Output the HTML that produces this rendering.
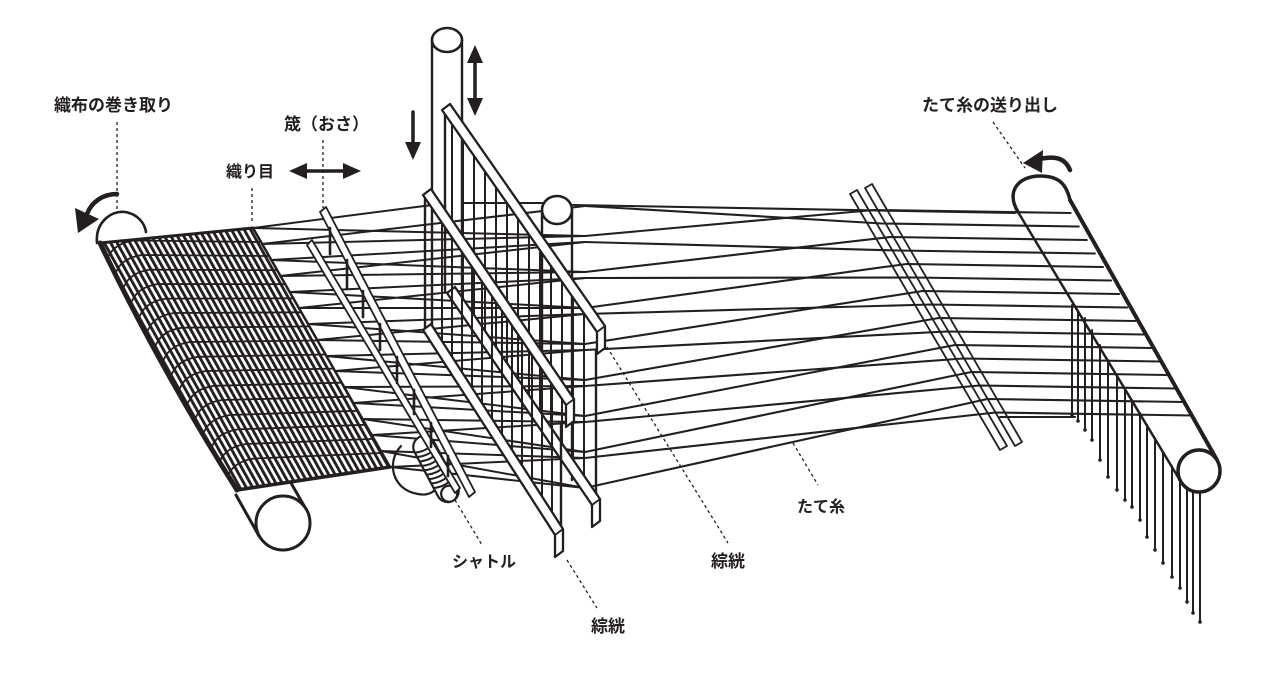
<!DOCTYPE html>
<html><head><meta charset="utf-8"><style>
html,body{margin:0;padding:0;background:#fff;}
svg{display:block;}
text{font-family:"Liberation Sans","Noto Sans CJK JP",sans-serif;font-weight:bold;fill:#231f20;}
</style></head><body>
<svg width="1280" height="674" viewBox="0 0 1280 674" xmlns="http://www.w3.org/2000/svg">
<defs>
<pattern id="h" width="5.6" height="20" patternUnits="userSpaceOnUse" patternTransform="rotate(-29)"><rect width="2.9" height="20" fill="#231f20"/></pattern>
</defs>
<rect width="1280" height="674" fill="#fff"/>
<g stroke="#231f20" fill="none" stroke-linecap="round" stroke-linejoin="round">

<!-- right warp beam -->
<path d="M1018,212 L1181,482 L1217,460 L1070,200 C1066,183 1058,176 1040,176 C1020,176 1005,190 1018,212 Z" fill="#fff" stroke="none"/>
<path d="M1018,212 L1181,482" stroke-width="2.5"/>
<path d="M1070,200 L1217,460" stroke-width="4"/>
<path d="M1018,212 C1005,190 1020,176 1040,176 C1058,176 1066,183 1070,200" stroke-width="3.5"/>

<!-- tall post -->
<rect x="432" y="40" width="30" height="160" fill="#fff" stroke="none"/>
<path d="M432,40 L432,330 M462,40 L462,290" stroke-width="2.4"/>
<ellipse cx="447" cy="40" rx="15" ry="12" fill="#fff" stroke-width="2.6"/>

<!-- right warp family -->
<g stroke-width="2.1">
<polyline points="573,205 1015,213"/>
<polyline points="585,206 882,223.5 1078.7,226.5"/>
<polyline points="585,236 874,210 1070.6,213"/>
<polyline points="585,242 898.3,250.5 1094.9,253.5"/>
<polyline points="585,272 890.2,237 1086.8,240"/>
<polyline points="585,278 914.5,277.5 1111.1,280.5"/>
<polyline points="585,308 906.4,264 1103,267"/>
<polyline points="585,314 930.7,304.5 1127.3,307.5"/>
<polyline points="585,344 922.6,291 1119.2,294"/>
<polyline points="585,350 946.9,331.5 1143.5,334.5"/>
<polyline points="585,380 938.8,318 1135.4,321"/>
<polyline points="585,386 963.1,358.5 1159.7,361.5"/>
<polyline points="585,416 955,345 1151.6,348"/>
<polyline points="585,422 979.3,385.5 1175.9,388.5"/>
<polyline points="585,452 971.2,372 1167.8,375"/>
<polyline points="585,458 995.5,412.5 1192.1,415.5"/>
<polyline points="585,488 987.4,399 1184,402"/>
<polyline points="1000,417 1075,417"/>
</g>

<!-- lease sticks -->
<polygon points="850,194 857,190 1007,446 1000,450" stroke-width="1.8"/>
<polygon points="865,188 872,184 1022,442 1015,446" stroke-width="1.8"/>

<!-- hanging threads -->
<g stroke-width="2">
<path d="M1072,305 V415 M1078,311 V421 M1085,318 V430 M1092,330 V440 M1100,345 V460 M1108,360 V477 M1117,375 V490 M1125,388 V500 M1132,400 V507 M1140,413 V520 M1147,425 V537 M1155,438 V550 M1163,452 V563 M1172,466 V577 M1180,480 V588 M1187,490 V602 M1193,492 V613 M1200,492 V622"/>
</g>
<g fill="#231f20" stroke="none">
<circle cx="1072" cy="415" r="1.8"/><circle cx="1078" cy="421" r="1.8"/><circle cx="1085" cy="430" r="1.8"/><circle cx="1092" cy="440" r="1.8"/><circle cx="1100" cy="460" r="1.8"/><circle cx="1108" cy="477" r="1.8"/><circle cx="1117" cy="490" r="1.8"/><circle cx="1125" cy="500" r="1.8"/><circle cx="1132" cy="507" r="1.8"/><circle cx="1140" cy="520" r="1.8"/><circle cx="1147" cy="537" r="1.8"/><circle cx="1155" cy="550" r="1.8"/><circle cx="1163" cy="563" r="1.8"/><circle cx="1172" cy="577" r="1.8"/><circle cx="1180" cy="588" r="1.8"/><circle cx="1187" cy="602" r="1.8"/><circle cx="1193" cy="613" r="1.8"/><circle cx="1200" cy="622" r="1.8"/>
</g>
<circle cx="1199" cy="471" r="21" fill="#fff" stroke-width="3.5"/>

<!-- left warp family -->
<g stroke-width="2">
<path d="M253,228 L432,205 M462,203 L542,203"/>
<path d="M253,228 L585,236 M262,244 L585,206 M271,260 L585,272 M280,276 L585,242 M290,292 L585,308 M299,308 L585,278 M308,324 L585,344 M317,340 L585,314 M326,356 L585,380 M335,371 L585,350 M344,387 L585,416 M354,403 L585,386 M363,419 L585,452 M372,435 L585,422 M381,451 L585,488 M390,467 L585,458"/>
<path d="M262,244 L585,236 M271,260 L585,242 M280,276 L585,272 M290,292 L585,278 M299,308 L585,308 M308,324 L585,314 M317,340 L585,344 M326,356 L585,350 M335,371 L585,380 M344,387 L585,386 M354,403 L585,416 M363,419 L585,422 M372,435 L585,452 M381,451 L585,458 M390,467 L585,488"/>
</g>

<!-- short post -->
<path d="M542,212 L542,350 M572,212 L572,480" stroke-width="2.4"/>
<ellipse cx="557" cy="210" rx="15" ry="14" fill="#fff" stroke-width="2.6"/>

<!-- frame A verticals -->
<g stroke-width="2">
<path d="M452,124 V300 M463,140 V316 M474,156 V332 M485,172 V348 M496,187 V364 M507,203 V380 M518,219 V396 M529,235 V412 M540,250 V428 M551,266 V445 M562,282 V461 M573,298 V477 M584,313 V493"/>
<path d="M445,110 V292 M596,350 V502" stroke-width="2.4"/>
</g>
<!-- frame A bars -->
<polygon points="442,110 450,104 605,326 605,348 597,354 597,332" fill="#fff" stroke-width="2.3"/>
<path d="M597,332 L605,326" stroke-width="1.8"/>
<polygon points="447,293 455,287 600,499 600,521 592,527 592,505" fill="#fff" stroke-width="2.3"/>
<path d="M592,505 L600,499" stroke-width="1.8"/>

<!-- frame B verticals -->
<g stroke-width="2">
<path d="M432,208 V344 M442,223 V359 M452,238 V375 M462,252 V390 M472,267 V406 M482,282 V421 M492,296 V437 M502,311 V452 M512,326 V468 M522,340 V483 M532,355 V499 M542,370 V514 M552,384 V530"/>
<path d="M425,195 V330 M561,425 V531" stroke-width="2.4"/>
</g>
<!-- frame B bars -->
<polygon points="423,195 431,189 574,399 574,421 566,427 566,405" fill="#fff" stroke-width="2.3"/>
<path d="M566,405 L574,399" stroke-width="1.8"/>
<polygon points="423,330 431,324 563,529 563,551 555,557 555,535" fill="#fff" stroke-width="2.3"/>
<path d="M555,535 L563,529" stroke-width="1.8"/>

<!-- shuttle -->
<path d="M401,446 C386,462 392,490 418,494 C428,496 434,492 436,488" stroke-width="2.2"/>
<g transform="translate(436,469) rotate(62)">
<rect x="-36" y="-11" width="72" height="22" rx="11" fill="#fff" stroke-width="2.2"/>
<path d="M-24,-10 q4,10 0,20 M-19,-10 q4,10 0,20 M-14,-10 q4,10 0,20 M-9,-10 q4,10 0,20 M-4,-10 q4,10 0,20 M1,-10 q4,10 0,20 M6,-10 q4,10 0,20 M11,-10 q4,10 0,20 M16,-10 q4,10 0,20" stroke-width="2"/>
<circle cx="28" cy="0" r="8" fill="#fff" stroke-width="2.2"/>
</g>

<!-- reed -->
<polygon points="307,245 312,240 460,488 455,493" fill="#fff" stroke-width="1.8"/>
<polygon points="320,212 326,207 475,492 469,497" fill="#fff" stroke-width="1.8"/>
<path d="M330,228 V254 M347,260 V288 M363,291 V317 M380,324 V350 M397,357 V383 M414,390 V414 M431,423 V447 M448,456 V476" stroke-width="2.6"/>

<!-- left roller -->
<path d="M97,243 C95,222 112,210 125,212 C138,214 145,224 146,232" stroke-width="2.6"/>
<path d="M236,495 L259,536 M291,483 L306.5,510" stroke-width="3"/>
<circle cx="283" cy="523" r="27" fill="#fff" stroke-width="3"/>

<!-- cloth -->
<path d="M100,243 L253,228 L390,467 L237,490 Q160,368 100,243 Z" fill="url(#h)" stroke="none"/>
<g stroke="#231f20" stroke-width="1.8">
<path d="M108,257.5 Q114,243.5 134,240.5 L261,242"/>
<path d="M116,272 Q122,258 142,255 L269,256"/>
<path d="M124,286.6 Q130,272.6 150,269.6 L277,270.2"/>
<path d="M132,301 Q138,287 158,284 L285,284.2"/>
<path d="M140,315.6 Q146,301.6 166,298.6 L293,298.3"/>
<path d="M148,330 Q154,316 174,313 L301,312.3"/>
<path d="M156,344.7 Q162,330.7 182,327.7 L309,326.4"/>
<path d="M164,359 Q170,345 190,342 L317,340.5"/>
<path d="M172,373.8 Q178,359.8 198,356.8 L325,354.5"/>
<path d="M180,388 Q186,374 206,371 L333,368.6"/>
<path d="M188,402.8 Q194,388.8 214,385.8 L341,382.7"/>
<path d="M196,417 Q202,403 222,400 L349,396.7"/>
<path d="M204,432 Q210,418 230,415 L357,410.8"/>
<path d="M212,446.4 Q218,432.4 238,429.4 L365,424.8"/>
<path d="M220,461 Q226,447 246,444 L373,438.9"/>
<path d="M228,475.5 Q234,461.5 254,458.5 L381,453"/>
</g>
<path d="M100,243 L253,228" stroke-width="3"/>
<path d="M253,228 L390,467" stroke-width="2.5"/>
<path d="M390,467 L237,490" stroke-width="3.5"/>
<path d="M237,490 Q160,368 100,243" stroke-width="5"/>

<!-- dashed leader lines -->
<g stroke-width="1.3" stroke-dasharray="3,3" stroke-linecap="butt">
<path d="M117,122 L117,212"/>
<path d="M252,188 L252,224"/>
<path d="M323,140 L323,208"/>
<path d="M993,122 L1025,168"/>
<path d="M793,443 L818,485"/>
<path d="M607,347 L728,543"/>
<path d="M455,500 L482,545"/>
<path d="M567,560 L597,608"/>
</g>

<!-- arrows -->
<path d="M117,194 C102,194 91,203 87,214" stroke-width="4.5"/>
<polygon points="75,208 99,219 78,233" fill="#231f20" stroke="none"/>
<path d="M1070,170 C1066,160 1058,155 1040,159" stroke-width="4.5"/>
<polygon points="1023,163 1043,150 1042,173" fill="#231f20" stroke="none"/>
<path d="M413,112 L413,146" stroke-width="3.5"/>
<polygon points="405,142 421,142 413,160" fill="#231f20" stroke="none"/>
<path d="M475,58 L475,102" stroke-width="3.5"/>
<polygon points="475,45 467,63 483,63" fill="#231f20" stroke="none"/>
<polygon points="475,116 467,98 483,98" fill="#231f20" stroke="none"/>
<path d="M302,171 L348,171" stroke-width="3.5"/>
<polygon points="289,171 307,163 307,179" fill="#231f20" stroke="none"/>
<polygon points="361,171 343,163 343,179" fill="#231f20" stroke="none"/>
</g>

<!-- labels -->
<text x="54" y="111" font-size="17">織布の巻き取り</text>
<text x="284" y="130" font-size="17">筬（おさ）</text>
<text x="226" y="177" font-size="16">織り目</text>
<text x="922" y="111" font-size="17">たて糸の送り出し</text>
<text x="797" y="512" font-size="16">たて糸</text>
<text x="452" y="567" font-size="16">シャトル</text>
<text x="711" y="567" font-size="17">綜絖</text>
<text x="591" y="632" font-size="17">綜絖</text>
</svg>
</body></html>
